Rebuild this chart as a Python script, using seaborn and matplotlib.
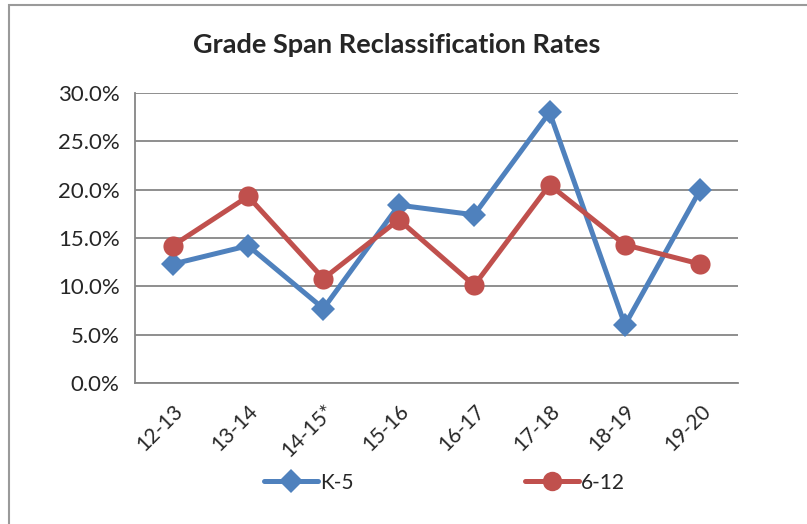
import numpy as np
import pandas as pd
import seaborn as sns
import matplotlib.pyplot as plt
from matplotlib.patches import Rectangle
from matplotlib.ticker import PercentFormatter

years = ['12-13', '13-14', '14-15*', '15-16', '16-17', '17-18', '18-19', '19-20']
k5 = [12.3, 14.2, 7.7, 18.4, 17.4, 28.0, 6.0, 20.0]
g612 = [14.2, 19.3, 10.8, 16.9, 10.1, 20.5, 14.3, 12.3]

df = pd.DataFrame({'year': years * 2,
                   'rate': k5 + g612,
                   'span': ['K-5'] * len(years) + ['6-12'] * len(years)})

sns.set_style('white')
plt.rcParams['font.family'] = ['Lato', 'DejaVu Sans']

fig = plt.figure(figsize=(8.07, 5.24), dpi=100)
fig.patches.append(Rectangle((9 / 807, -0.1), 1.2, 1 - 5 / 524 + 0.1,
                             transform=fig.transFigure, fill=False,
                             edgecolor='#9a9a9a', linewidth=1.5))
ax = fig.add_axes([0.1673, 0.2691, 0.7472, 0.5534])

palette = {'K-5': '#4F81BD', '6-12': '#C0504D'}
sizes = {'K-5': 12, '6-12': 14.5}
sns.lineplot(data=df, x='year', y='rate', hue='span', style='span',
             markers={'K-5': 'D', '6-12': 'o'}, dashes=False,
             palette=palette, linewidth=3.6, markeredgewidth=0,
             sort=False, ax=ax, legend=False)
for line, key in zip(ax.lines, ['K-5', '6-12']):
    line.set_markersize(sizes[key])

ax.set_xlim(-0.5, len(years) - 0.5)
ax.set_ylim(0, 30)
ax.set_yticks(np.arange(0, 31, 5))
ax.yaxis.set_major_formatter(PercentFormatter(decimals=1))
ax.yaxis.grid(True, color='#868686', linewidth=1.3)
ax.set_axisbelow(True)
for s in ['top', 'right']:
    ax.spines[s].set_visible(False)
for s in ['left', 'bottom']:
    ax.spines[s].set_color('#868686')
    ax.spines[s].set_linewidth(1.3)
ax.set_xticks(np.arange(-0.5, len(years), 1), minor=True)
ax.set_xticks(range(len(years)))
ax.set_xticklabels(years, rotation=45, ha='right', rotation_mode='anchor',
                   fontsize=15)
ax.tick_params(axis='x', which='major', length=0, pad=13)
ax.tick_params(axis='x', which='minor', length=6, color='#868686', width=1.3)
ax.tick_params(axis='y', length=6, color='#868686', width=1.3, labelsize=16,
               pad=5)
ax.set_xlabel('')
ax.set_ylabel('')

fig.text(0.492, 0.915, 'Grade Span Reclassification Rates', ha='center',
         va='center', fontsize=19.5, fontweight='bold')

handles = [plt.Line2D([], [], color=palette['K-5'], marker='D', markersize=12,
                      linewidth=3.6, markeredgewidth=0),
           plt.Line2D([], [], color=palette['6-12'], marker='o', markersize=14,
                      linewidth=3.6, markeredgewidth=0)]
fig.legend(handles, ['K-5', '6-12'], loc='center', bbox_to_anchor=(0.551, 0.079),
           ncol=2, frameon=False, fontsize=15, columnspacing=8.2,
           handlelength=2.6, handletextpad=0.1)

fig.savefig('out.png', dpi=100)
